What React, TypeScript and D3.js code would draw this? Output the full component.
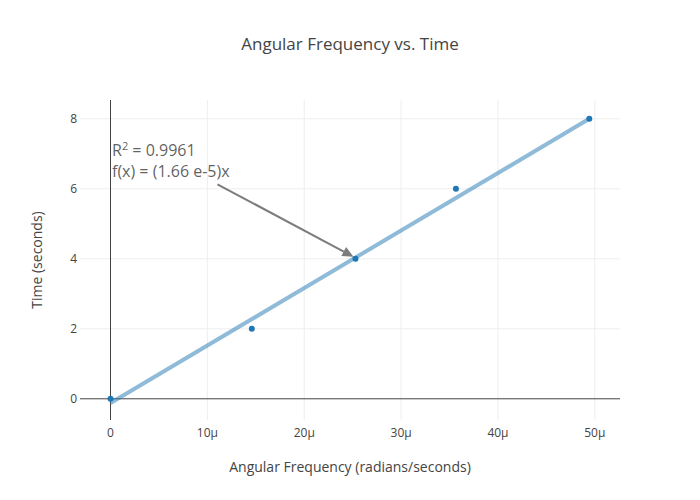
import React from "react";
import * as d3 from "d3";

const freq = [0, 14.59e-6, 25.29e-6, 35.66e-6, 49.43e-6];
const time = [0, 2, 4, 6, 8];
const fitX = [0, 49.43e-6];
const fitY = [-0.12, 8.0];
const xTicks = [0, 10e-6, 20e-6, 30e-6, 40e-6, 50e-6];
const yTicks = [0, 2, 4, 6, 8];
const annotPoint = [25.08e-6, 4.06];
const annotLines = ["f(x) = (1.66 e-5)x"];

const W = 700, H = 500;
const L = 80, R = 620, T = 100, B = 420;
const FONT = "'Open Sans', sans-serif";

export default function App() {
  const x = d3.scaleLinear().domain([-3.15e-6, 52.6e-6]).range([L, R]);
  const y = d3.scaleLinear().domain([-0.606, 8.537]).range([B, T]);
  const fmt = d3.format("~s");
  const line = d3.line<number>().x((d, i) => x(fitX[i])).y((d, i) => y(fitY[i]));
  const tipX = x(annotPoint[0]);
  const tipY = y(annotPoint[1]);
  const tailX = tipX - 136;
  const tailY = tipY - 72.4;
  const ang = Math.atan2(tipY - tailY, tipX - tailX);
  const ah = 11, aw = 5;
  const baseX = tipX - ah * Math.cos(ang), baseY = tipY - ah * Math.sin(ang);
  const head = [
    [tipX, tipY],
    [baseX + aw * Math.sin(ang), baseY - aw * Math.cos(ang)],
    [baseX - aw * Math.sin(ang), baseY + aw * Math.cos(ang)],
  ];
  return (
    <svg width={W} height={H} style={{ display: "block", position: "absolute", left: 0, top: 0 }} fontFamily={FONT}>
      <rect width={W} height={H} fill="#fff" />
      {xTicks.filter(t => t !== 0).map(t => (
        <line key={"gx" + t} x1={x(t)} x2={x(t)} y1={T} y2={B} stroke="#eee" strokeWidth={1} />
      ))}
      {yTicks.filter(t => t !== 0).map(t => (
        <line key={"gy" + t} x1={L} x2={R} y1={y(t)} y2={y(t)} stroke="#eee" strokeWidth={1} />
      ))}
      <line x1={x(0)} x2={x(0)} y1={T} y2={B} stroke="#444" strokeWidth={1} />
      <line x1={L} x2={R} y1={y(0)} y2={y(0)} stroke="#444" strokeWidth={1} />
      <path d={line(fitY) || ""} fill="none" stroke="#1f77b4" strokeOpacity={0.5} strokeWidth={4} />
      {freq.map((f, i) => (
        <circle key={i} cx={x(f)} cy={y(time[i])} r={3} fill="#1f77b4" />
      ))}
      {xTicks.map(t => (
        <text key={"tx" + t} x={x(t)} y={437} textAnchor="middle" fontSize={12} fill="#444">{fmt(t)}</text>
      ))}
      {yTicks.map(t => (
        <text key={"ty" + t} x={77} y={y(t) + 4} textAnchor="end" fontSize={12} fill="#444">{t}</text>
      ))}
      <line x1={tailX} y1={tailY} x2={baseX} y2={baseY} stroke="#444" strokeOpacity={0.7} strokeWidth={2} />
      <polygon points={head.map(p => p.join(",")).join(" ")} fill="#444" fillOpacity={0.7} />
      <text x={112} y={156} fontSize={16} fill="#444" fillOpacity={0.85}>
        R<tspan dy={-6} fontSize={11}>2</tspan><tspan dy={6}> = 0.9961</tspan>
      </text>
      <text x={112} y={177} fontSize={16} fill="#444" fillOpacity={0.85}>{annotLines[0]}</text>
      <text x={350} y={50} textAnchor="middle" fontSize={17} fill="#444">Angular Frequency vs. Time</text>
      <text x={350} y={472} textAnchor="middle" fontSize={14} fill="#444">Angular Frequency (radians/seconds)</text>
      <text transform={`translate(42,${(T + B) / 2}) rotate(-90)`} textAnchor="middle" fontSize={14} fill="#444">Time (seconds)</text>
    </svg>
  );
}
